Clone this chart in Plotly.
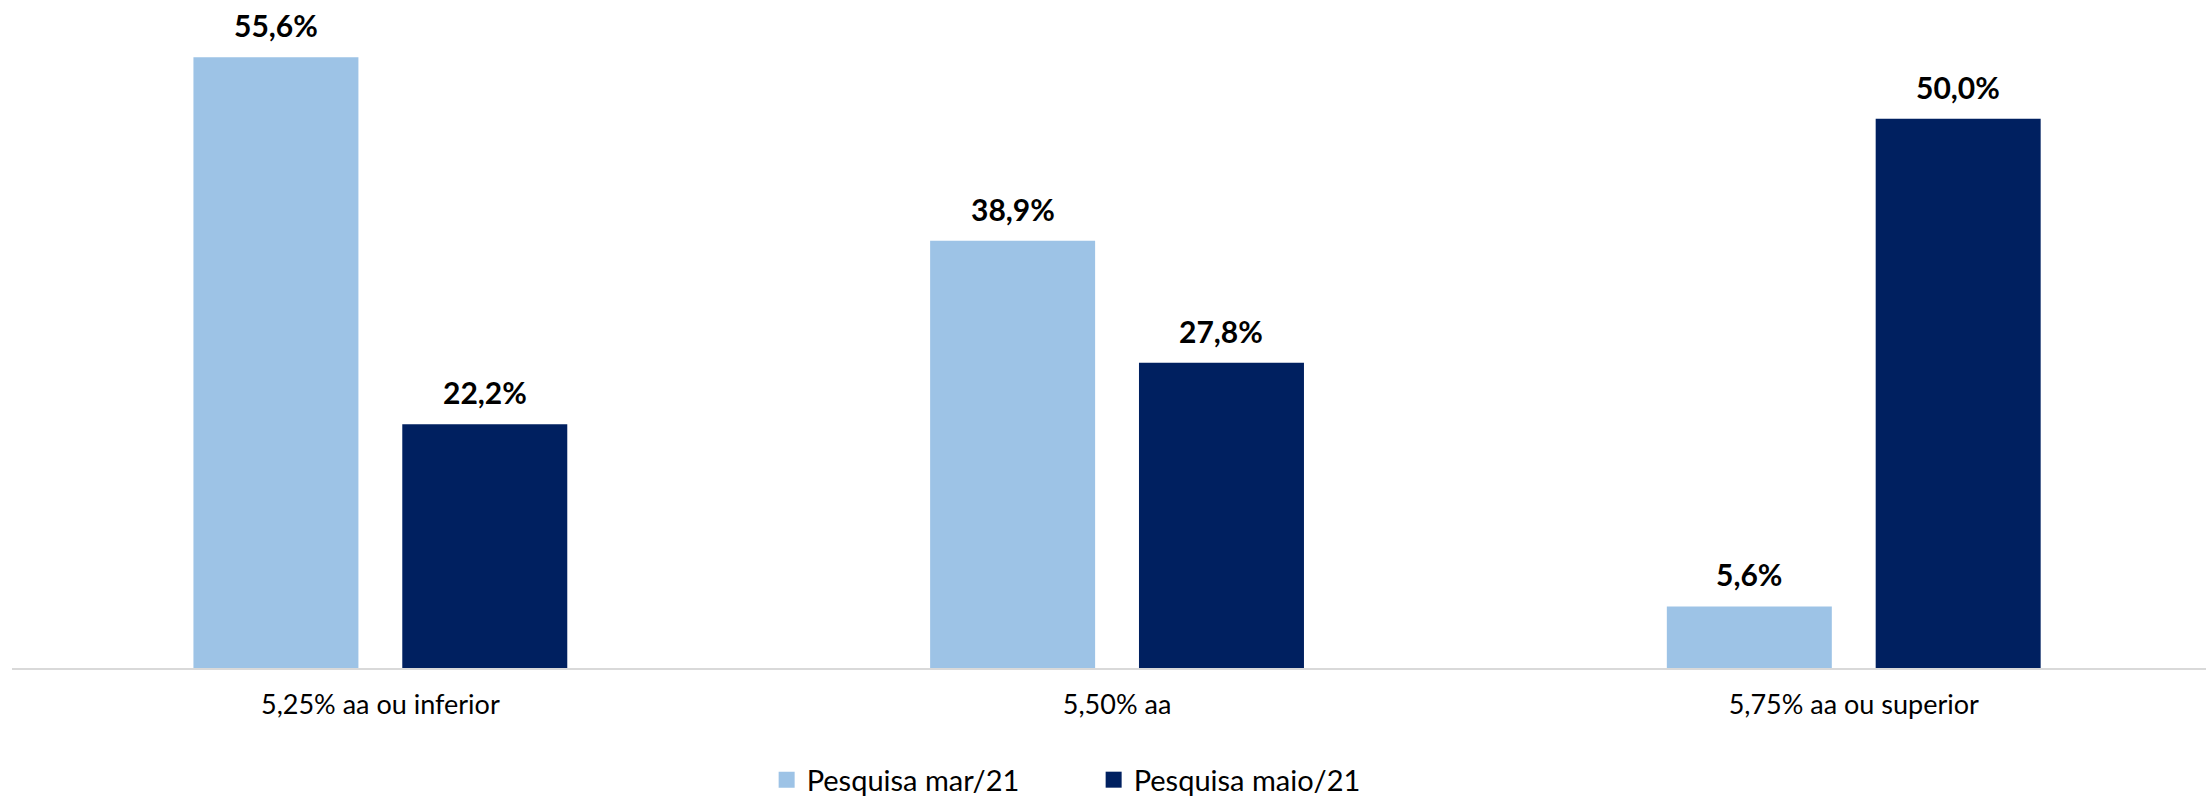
import plotly.graph_objects as go

categories = ["5,25% aa ou inferior", "5,50% aa", "5,75% aa ou superior"]
series_names = ["Pesquisa mar/21", "Pesquisa maio/21"]
mar21 = [55.6, 38.9, 5.6]
maio21 = [22.2, 27.8, 50.0]
colors = ["#9DC3E6", "#002060"]

W, H = 2206, 797
ML, MR, MT, MB = 12, 0, 9, 129
cat_px = 736.7
plot_w = W - ML - MR
xmax = -0.5 + plot_w / cat_px

FONT = "Lato"

fig = go.Figure()
for name, vals, col in [(series_names[0], mar21, colors[0]), (series_names[1], maio21, colors[1])]:
    fig.add_trace(go.Bar(x=categories, y=vals, name=name, marker=dict(color=col, line=dict(width=0)),
                         showlegend=False, hoverinfo="skip"))
    fig.add_trace(go.Scatter(x=[None], y=[None], mode="markers", name=name,
                             marker=dict(symbol="square", size=18, color=col)))

slot = cat_px * (1 - 0.433) / 2
for vals, off in [(mar21, -slot / 2), (maio21, slot / 2)]:
    for c, v in zip(categories, vals):
        fig.add_annotation(x=c, y=v, xref="x", yref="y", text="<b>" + f"{v:.1f}".replace(".", ",") + "%</b>",
                           showarrow=False, xshift=off, yanchor="bottom", yshift=12,
                           font=dict(family=FONT, size=30, color="#000000"))

fig.update_layout(
    width=W, height=H,
    margin=dict(l=ML, r=MR, t=MT, b=MB, autoexpand=False),
    paper_bgcolor="white", plot_bgcolor="white",
    barmode="group", bargap=0.433, bargroupgap=0.21,
    font=dict(family=FONT, color="#000000"),
    xaxis=dict(range=[-0.5, xmax], showline=True, linecolor="#D9D9D9", linewidth=2,
               showgrid=False, zeroline=False, ticks="", ticklabelstandoff=12, automargin=False,
               tickfont=dict(family=FONT, size=27, color="#000000")),
    yaxis=dict(range=[0, 60], visible=False, showgrid=False, zeroline=False, automargin=False),
    legend=dict(orientation="h", x=0.493, xanchor="center", y=-0.131, yanchor="top",
                font=dict(family=FONT, size=29, color="#000000"),
                entrywidth=282, entrywidthmode="pixels", itemclick=False),
    showlegend=True,
)

fig.write_html("out.html")
